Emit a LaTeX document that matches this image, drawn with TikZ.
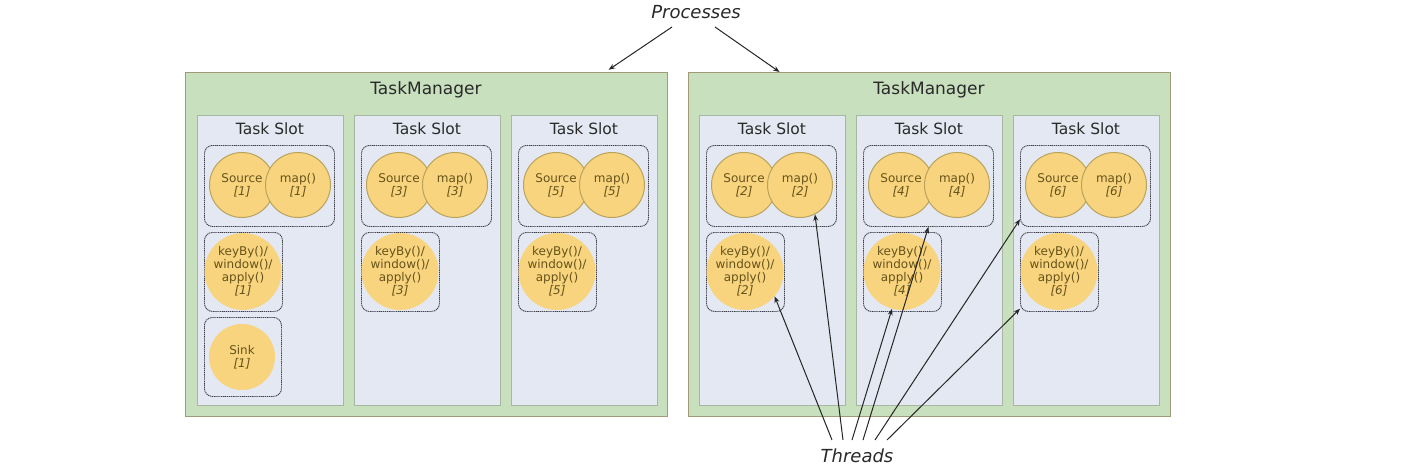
\documentclass[tikz,border=0pt]{standalone}
\usepackage{fontspec}
\setmainfont{DejaVu Sans}
\usetikzlibrary{arrows.meta}
\definecolor{tmfill}{HTML}{C8E0BE}
\definecolor{tmdraw}{HTML}{A09A78}
\definecolor{slotfill}{HTML}{E3E8F2}
\definecolor{slotdraw}{HTML}{A6B8A2}
\definecolor{opfill}{HTML}{F8D47E}
\definecolor{opdraw}{HTML}{B9A35E}
\definecolor{optext}{HTML}{66531A}
\definecolor{grpdraw}{HTML}{40404A}
\definecolor{titletext}{HTML}{2A2A2A}
\begin{document}
\begin{tikzpicture}[x=1pt,y=-1pt,
  tm/.style={draw=tmdraw, fill=tmfill, line width=1.2pt, minimum width=482, minimum height=344, inner sep=0, anchor=north west},
  tmtitle/.style={font=\fontsize{17}{20}\selectfont, text=titletext},
  slotbox/.style={draw=slotdraw, fill=slotfill, line width=1pt, minimum width=146, minimum height=290, inner sep=0, anchor=north west},
  slottitle/.style={font=\fontsize{15.5}{18}\selectfont, text=titletext},
  grp/.style={draw=grpdraw, line width=0.9pt, dash pattern=on 1.2pt off 0.7pt, rounded corners=8pt, inner sep=0, anchor=north west},
  op/.style={circle, fill=opfill, draw=opdraw, line width=1pt, minimum size=65, inner sep=0, align=center, text=optext, font=\fontsize{12}{13}\selectfont},
  opsoft/.style={circle, fill=opfill, minimum size=66, inner sep=0, align=center, text=optext, font=\fontsize{12}{13}\selectfont},
  lbl/.style={font=\fontsize{18}{21}\selectfont\itshape, text=titletext},
  thr/.style={-{Stealth[length=6.5pt,width=5pt]}, line width=1pt, draw=black!85}
]
\useasboundingbox[fill=white] (0,0) rectangle (1418,468);

% TaskManagers
\node[tm] (tm1) at (185,72) {};
\node[tm] (tm2) at (688,72) {};
\node[tmtitle] (tmt1) at (426,90) {TaskManager};
\node[tmtitle] (tmt2) at (929,90) {TaskManager};

% Slots
\foreach \i/\x/\n in {1/197/1, 2/354/3, 3/511/5, 4/699/2, 5/856/4, 6/1013/6} {
  \node[slotbox] (sl\i) at (\x,115) {};
  \node[slottitle] (st\i) at ({\x+73},129) {Task Slot};
  \node[grp, minimum width=130, minimum height=81] (g\i) at ({\x+7},145) {};
  \node[op] (s\i) at ({\x+45},185) {Source\\{\itshape[\n]}};
  \node[op] (m\i) at ({\x+101},185) {map()\\{\itshape[\n]}};
  \node[grp, minimum width=78, minimum height=79] (kb\i) at ({\x+7},232) {};
  \node[opsoft] (k\i) at ({\x+46},271.5) {keyBy()/\\window()/\\apply()\\{\itshape[\n]}};
  \ifnum\i=1
    \node[grp, minimum width=77, minimum height=79] (sb\i) at ({\x+7},317) {};
    \node[opsoft] (sk\i) at ({\x+45},357) {Sink\\{\itshape[\n]}};
  \fi
}

% Processes
\node[lbl] (proc) at (696,12) {Processes};
\coordinate (p1) at (672,27);
\coordinate (p2) at (715,27);
\draw[thr, shorten >=4pt] (p1) -- (tm1.44);
\draw[thr] (p2) -- (tm2.131.5);

% Threads
\node[lbl] (thr) at (857,456) {Threads};
\coordinate (t1) at (832,440);
\coordinate (t2) at (843,440);
\coordinate (t3) at (852,440);
\coordinate (t4) at (863,440);
\coordinate (t5) at (875,440);
\coordinate (t6) at (887,440);
\draw[thr] (t1) -- (k4.-40);
\draw[thr] (t2) -- (m4.-63);
\draw[thr] (t3) -- (k5.-105);
\draw[thr] (t4) -- (g5.south);
\draw[thr] (t5) -- (g6.-153);
\draw[thr] (t6) -- (kb6.-137);
\end{tikzpicture}
\end{document}
